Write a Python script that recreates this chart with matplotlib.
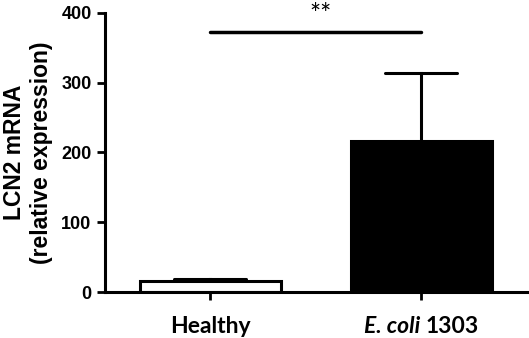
import matplotlib
matplotlib.use("Agg")
import matplotlib.pyplot as plt
from matplotlib.transforms import offset_copy

groups = ["Healthy", "E. coli 1303"]
means = [16, 217]
errors = [3, 97]
colors = ["white", "black"]
sig_y = 372
sig_text = "**"


def main() -> None:
    fig = plt.figure(figsize=(5.29, 3.38), dpi=100)
    ax = fig.add_axes([0.198, 0.136, 0.798, 0.826])

    x = list(range(len(groups)))
    ax.bar(x, means, width=0.67, color=colors, edgecolor="black", linewidth=2.2, zorder=2)
    # upper error bars only, caps half the bar width
    for xi, m, e in zip(x, means, errors):
        ax.plot([xi, xi], [m, m + e], color="black", lw=2.2, zorder=1)
        ax.plot([xi - 0.17, xi + 0.17], [m + e, m + e], color="black", lw=2.2,
                solid_capstyle="round", zorder=1)

    ax.plot([x[0], x[1]], [sig_y, sig_y], color="black", lw=2.5, solid_capstyle="round", clip_on=False)
    ax.text(0.52, sig_y + 6, sig_text, ha="center", va="bottom", fontsize=19, family="Lato")

    ax.set_xlim(-0.5, 1.5)
    ax.set_ylim(0, 400)
    ax.set_yticks([0, 100, 200, 300, 400])
    ax.set_xticks(x)
    ax.set_xticklabels([])

    xt = ax.get_xaxis_transform()
    ax.text(0, -0.085, "Healthy", transform=xt, ha="center", va="top",
            fontsize=16.5, fontweight="bold", family="Lato")

    # "E. coli" italic + "1303" upright, centred together under the second bar
    fig.canvas.draw()
    r = fig.canvas.get_renderer()
    t1 = ax.text(0, 0, "E. coli ", fontsize=16.5, fontweight="bold", style="italic", family="Lato")
    t2 = ax.text(0, 0, "1303", fontsize=16.5, fontweight="bold", family="Lato")
    w1 = t1.get_window_extent(r).width
    w2 = t2.get_window_extent(r).width
    total = w1 + w2
    t1.set_transform(offset_copy(xt, fig=fig, x=-total / 2, y=0, units="dots"))
    t1.set_position((1, -0.085))
    t1.set_va("top")
    t2.set_transform(offset_copy(xt, fig=fig, x=-total / 2 + w1, y=0, units="dots"))
    t2.set_position((1, -0.085))
    t2.set_va("top")

    for s in ["top", "right"]:
        ax.spines[s].set_visible(False)
    for s in ["left", "bottom"]:
        ax.spines[s].set_linewidth(2.2)
    ax.tick_params(axis="both", width=2, length=6)
    for lab in ax.get_yticklabels():
        lab.set_fontsize(13)
        lab.set_fontweight("bold")
        lab.set_family("Liberation Sans")
    ax.set_ylabel("LCN2 mRNA\n(relative expression)", fontsize=16.5, fontweight="bold",
                  family="Liberation Sans", labelpad=6)

    fig.savefig("out.png", dpi=100)
    plt.close(fig)


if __name__ == "__main__":
    main()
